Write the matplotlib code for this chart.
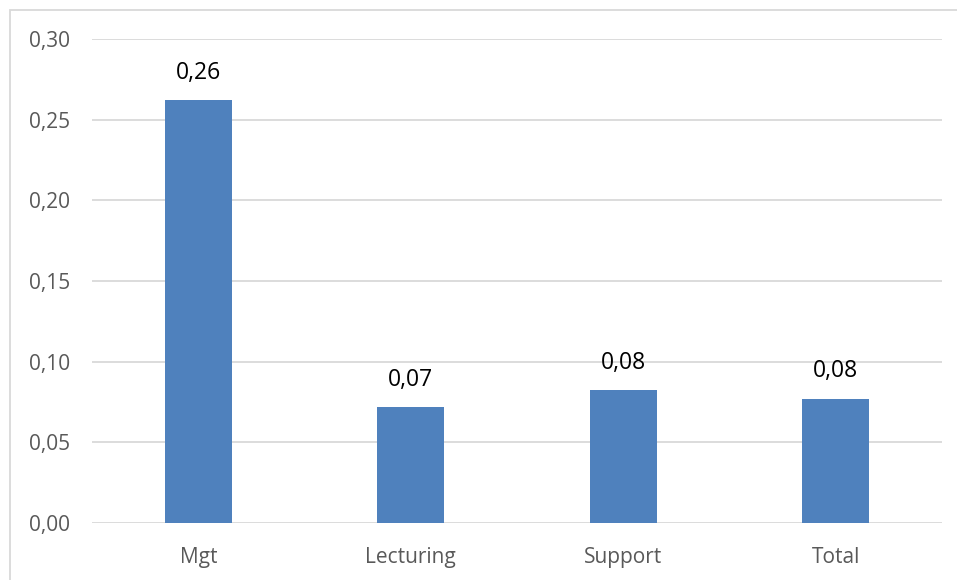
import matplotlib.pyplot as plt
from matplotlib.patches import Rectangle
from matplotlib.ticker import FuncFormatter

categories = ['Mgt', 'Lecturing', 'Support', 'Total']
values     = [0.262, 0.072, 0.0825, 0.077]
labels     = ['0,26', '0,07', '0,08', '0,08']
yticks     = [0.00, 0.05, 0.10, 0.15, 0.20, 0.25, 0.30]

plt.rcParams['font.family'] = ['Open Sans', 'DejaVu Sans']

fig = plt.figure(figsize=(9.57, 5.80), dpi=100)
ax = fig.add_axes([92/957, 1-523/580, 850/957, (523-39)/580])

x = range(len(categories))
bars = ax.bar(x, values, width=0.315, color='#4F81BD', zorder=3)
for b, lab in zip(bars, labels):
    ax.annotate(lab, (b.get_x() + b.get_width()/2, b.get_height()),
                xytext=(0, 11), textcoords='offset points',
                ha='center', va='bottom', fontsize=16.5, color='black')

ax.set_xlim(-0.5, len(categories) - 0.5)
ax.set_ylim(0, 0.30)
ax.set_yticks(yticks)
ax.yaxis.set_major_formatter(FuncFormatter(lambda v, _: ('%.2f' % v).replace('.', ',')))
ax.set_xticks(list(x))
ax.set_xticklabels(categories)
ax.tick_params(axis='both', length=0, labelsize=15, labelcolor='#595959')
ax.tick_params(axis='x', pad=17)
ax.tick_params(axis='y', pad=16)
ax.grid(axis='y', color='#D9D9D9', linewidth=1.3, zorder=0)
for s in ax.spines.values():
    s.set_visible(False)

# light chart-area frame
fig.patches.append(Rectangle((10/957, -0.1), 1.2, 1.1 - 10/580, transform=fig.transFigure,
                             fill=False, edgecolor='#D9D9D9', linewidth=1.3))

fig.savefig('out.png', dpi=100)
